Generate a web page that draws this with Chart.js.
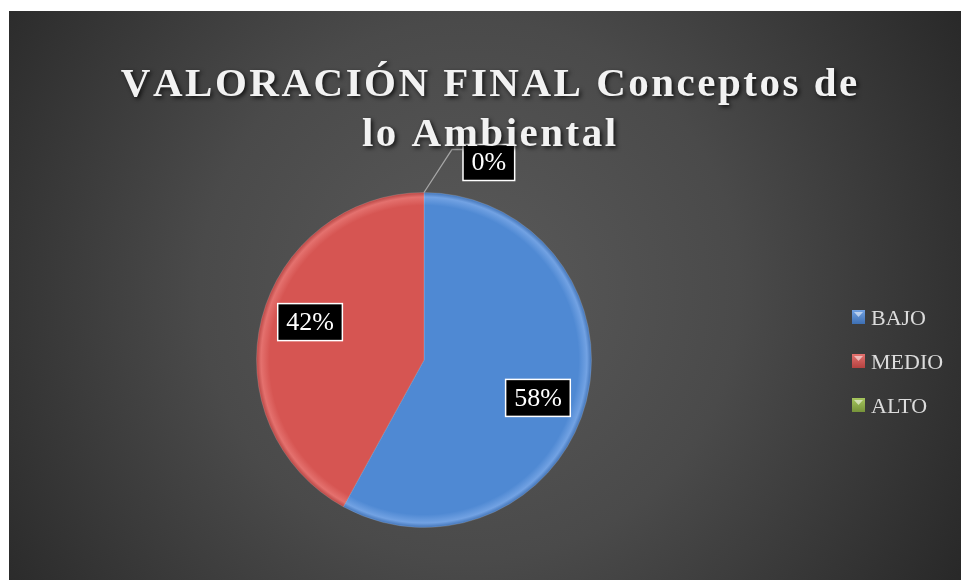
<!DOCTYPE html>
<html>
<head>
<meta charset="utf-8">
<script src="https://cdn.jsdelivr.net/npm/chart.js@4.4.0/dist/chart.umd.min.js"></script>
<style>
html,body{margin:0;padding:0;background:#fff;}
#wrap{width:961px;height:581px;position:relative;}
</style>
</head>
<body>
<div id="wrap"><canvas id="c" width="961" height="581"></canvas></div>
<script>
const categories = ["BAJO", "MEDIO", "ALTO"];
const values = [58, 42, 0];
const labelsText = ["58%", "42%", "0%"];
const titleLines = ["VALORACIÓN FINAL Conceptos de", "lo Ambiental"];
const colorsMain = ["#4f89d3", "#d65552", "#8fb04a"];
const colorsLight = ["#72a2e3", "#e4716e", "#a6c65e"];
const colorsDark = ["#3d6fb3", "#b44240", "#76933a"];

const bgPlugin = {
  id: 'bg',
  beforeDraw(chart) {
    const ctx = chart.ctx;
    ctx.save();
    ctx.fillStyle = '#ffffff';
    ctx.fillRect(0, 0, chart.width, chart.height);
    const g = ctx.createRadialGradient(470, 290, 0, 470, 290, 600);
    g.addColorStop(0, '#5a5a5a');
    g.addColorStop(0.45, '#4a4a4a');
    g.addColorStop(1, '#252525');
    ctx.fillStyle = g;
    ctx.fillRect(9, 11, chart.width - 9, 569);
    ctx.restore();
  }
};

const titlePlugin = {
  id: 'customTitle',
  afterDraw(chart) {
    const ctx = chart.ctx;
    ctx.save();
    ctx.font = 'bold 41px "Liberation Serif"';
    ctx.textAlign = 'left';
    ctx.textBaseline = 'alphabetic';
    const targetW = 731;
    const w0 = ctx.measureText(titleLines[0]).width;
    const sp = (targetW - w0) / (titleLines[0].length - 1);
    const cx = 489;
    const baselines = [96, 146];
    ctx.shadowColor = 'rgba(0,0,0,0.75)';
    ctx.shadowBlur = 4;
    ctx.shadowOffsetX = 2;
    ctx.shadowOffsetY = 2;
    ctx.fillStyle = '#f2f2f2';
    titleLines.forEach((t, i) => {
      let w = 0;
      for (const ch of t) w += ctx.measureText(ch).width + sp;
      w -= sp;
      let x = cx - w / 2;
      for (const ch of t) {
        ctx.fillText(ch, x, baselines[i]);
        x += ctx.measureText(ch).width + sp;
      }
    });
    ctx.restore();
  }
};

const legendPlugin = {
  id: 'customLegend',
  afterDraw(chart) {
    const ctx = chart.ctx;
    ctx.save();
    ctx.font = '22px "Liberation Serif"';
    ctx.textBaseline = 'alphabetic';
    ctx.textAlign = 'left';
    categories.forEach((c, i) => {
      const y = 310 + i * 44;
      const x = 852;
      const g = ctx.createLinearGradient(x, y, x, y + 14);
      g.addColorStop(0, colorsLight[i]);
      g.addColorStop(1, colorsDark[i]);
      ctx.fillStyle = g;
      ctx.fillRect(x, y, 13, 14);
      ctx.fillStyle = 'rgba(255,255,255,0.55)';
      ctx.beginPath();
      ctx.moveTo(x + 2, y + 2); ctx.lineTo(x + 11, y + 2); ctx.lineTo(x + 6.5, y + 7); ctx.closePath();
      ctx.fill();
      ctx.fillStyle = '#dcdcdc';
      ctx.fillText(c, 871, y + 15);
    });
    ctx.restore();
  }
};

function drawBox(ctx, text, cx, cy, w, h) {
  ctx.fillStyle = '#000';
  ctx.fillRect(cx - w / 2, cy - h / 2, w, h);
  ctx.strokeStyle = '#ffffff';
  ctx.lineWidth = 1.5;
  ctx.strokeRect(cx - w / 2, cy - h / 2, w, h);
  ctx.fillStyle = '#ffffff';
  ctx.textAlign = 'center';
  ctx.textBaseline = 'middle';
  ctx.fillText(text, cx, cy + 1);
}

const labelPlugin = {
  id: 'dataLabels',
  afterDatasetsDraw(chart) {
    const ctx = chart.ctx;
    const meta = chart.getDatasetMeta(0);
    ctx.save();
    ctx.font = '26px "Liberation Serif"';
    meta.data.forEach((arc, i) => {
      const p = arc.getProps(['x', 'y', 'startAngle', 'endAngle', 'outerRadius'], true);
      const mid = (p.startAngle + p.endAngle) / 2;
      const text = labelsText[i];
      const tw = ctx.measureText(text).width;
      if (values[i] > 0) {
        const a = mid + 4 * Math.PI / 180;
        const r = p.outerRadius * 0.717;
        drawBox(ctx, text, p.x + Math.cos(a) * r, p.y + Math.sin(a) * r, tw + 17, 37);
      } else {
        const ex = p.x + Math.cos(mid) * p.outerRadius;
        const ey = p.y + Math.sin(mid) * p.outerRadius;
        const elx = ex + 28, ely = ey - 43;
        ctx.strokeStyle = '#a6a6a6';
        ctx.lineWidth = 1.3;
        ctx.beginPath();
        ctx.moveTo(ex, ey); ctx.lineTo(elx, ely); ctx.lineTo(elx + 11, ely);
        ctx.stroke();
        const bw = tw + 17;
        drawBox(ctx, text, elx + 11 + bw / 2, ely + 13, bw, 36);
      }
    });
    ctx.restore();
  }
};

function sliceFill(context) {
  const i = context.dataIndex;
  const chart = context.chart;
  const ca = chart.chartArea;
  if (!ca || i === undefined) return colorsMain[i || 0];
  const cx = (ca.left + ca.right) / 2, cy = (ca.top + ca.bottom) / 2;
  const r = Math.min(ca.right - ca.left, ca.bottom - ca.top) / 2;
  const g = chart.ctx.createRadialGradient(cx, cy, 0, cx, cy, r);
  g.addColorStop(0, colorsMain[i]);
  g.addColorStop(0.92, colorsMain[i]);
  g.addColorStop(0.97, colorsLight[i]);
  g.addColorStop(1, colorsDark[i]);
  return g;
}

new Chart(document.getElementById('c'), {
  type: 'pie',
  data: {
    labels: categories,
    datasets: [{
      data: values,
      backgroundColor: sliceFill,
      borderColor: 'rgba(255,255,255,0.15)',
      borderWidth: 1
    }]
  },
  options: {
    responsive: false,
    animation: false,
    devicePixelRatio: 1,
    layout: { padding: { left: 256, right: 369, top: 192, bottom: 53 } },
    plugins: {
      legend: { display: false },
      title: { display: false },
      tooltip: { enabled: false }
    }
  },
  plugins: [bgPlugin, labelPlugin, titlePlugin, legendPlugin]
});
</script>
</body>
</html>
